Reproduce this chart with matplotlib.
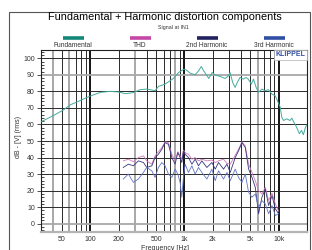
import matplotlib

matplotlib.use("Agg")
import matplotlib.pyplot as plt
from matplotlib.lines import Line2D
from matplotlib.patches import Rectangle
from matplotlib.ticker import FixedLocator, MultipleLocator, NullLocator

plt.rcParams["font.family"] = ["Liberation Sans", "DejaVu Sans"]

# --- data ------------------------------------------------------------------
fund_freq = [30.5, 40.7, 52, 61, 78, 100, 128, 163, 202, 235, 284, 338, 400,
             488, 530, 623, 763, 867, 985, 1040, 1150, 1300, 1410, 1510, 1600,
             1740, 1810, 1970, 2130, 2400, 2700, 2930, 3050, 3250, 3450, 3640,
             3890, 4210, 4500, 4750, 5140, 5400, 5770, 6120, 6640, 7190, 7800,
             8460, 9170, 9700, 10400, 10800, 11250, 12200, 13200, 13800, 14500,
             15500, 16600, 17500, 18300, 19300, 20000]
fund_db = [61.8, 65.4, 68.8, 71.8, 74.4, 77.2, 79.4, 80.0, 79.6, 78.6, 79.2,
           81.0, 81.4, 80.4, 83.0, 84.4, 87.8, 91.4, 93.4, 93.0, 91.0, 90.0,
           92.4, 95.0, 92.4, 89.4, 87.8, 91.4, 89.8, 89.0, 87.8, 89.4, 91.4,
           85.4, 82.4, 85.4, 88.4, 87.4, 88.4, 87.4, 84.4, 87.4, 82.4, 79.4,
           81.4, 80.4, 81.0, 78.4, 77.4, 74.4, 70.4, 64.4, 62.4, 63.4, 62.4,
           63.8, 61.4, 58.4, 54.4, 56.4, 53.8, 58.4, 59.8]

dist_freq = [224, 254, 287, 324, 367, 398, 450, 488, 529, 575, 623, 676, 734,
             796, 850, 900, 937, 975, 1016, 1103, 1199, 1300, 1409, 1531, 1730,
             1955, 2122, 2300, 2600, 2825, 3062, 3460, 3750, 4080, 4425, 4800,
             5210, 5650, 6125, 6650, 7220, 7830, 8500, 9220, 10000]
thd_db = [38, 39, 37.5, 40, 41, 38, 36, 41, 43.5, 46, 49.5, 49, 42, 38, 43.5,
          41, 39, 44.5, 43, 42, 39, 40, 38, 39, 38, 38.5, 37, 38, 39, 36.5, 36,
          41.5, 45, 49.5, 47, 36, 31, 26, 20, 18, 22, 14, 18.5, 12, 7.5]
h2_db = [34, 36, 35, 38, 37, 34, 35, 40, 42, 45, 49, 48, 40, 36, 43, 40, 37,
         44, 42, 40, 36, 39, 35, 38, 34, 37, 33, 37, 33, 36, 31, 40, 44, 49,
         46, 33, 28, 22, 6, 16, 21, 11, 17, 9, 6]
h3_db = [27, 30, 25, 27, 31, 34, 32, 28, 34, 37, 35, 30, 28, 33, 30, 25, 16,
         28, 36, 31, 35, 30, 34, 31, 27, 33, 26, 32, 27, 31, 26, 33, 28, 25,
         30, 19, 16, 18, 10, 14, 12, 6, 11, 5, 6]

series_names = ["Fundamental", "THD", "2nd Harmonic", "3rd Harmonic"]
legend_colors = ["#14877a", "#c447a6", "#22225e", "#2f4fa3"]
line_colors = ["#45aa9c", "#d27ab8", "#38357e", "#6274c4"]

x_ticks = [50, 100, 200, 500, 1000, 2000, 5000, 10000]
x_tick_labels = ["50", "100", "200", "500", "1k", "2k", "5k", "10k"]
y_ticks = list(range(0, 101, 10))

# --- figure ----------------------------------------------------------------
fig = plt.figure(figsize=(3.12, 2.5), dpi=100)
fig.patches.append(Rectangle((9 / 312, -0.1), 300.5 / 312, 1.1 - 12 / 250,
                             transform=fig.transFigure, fill=False,
                             edgecolor="#555555", linewidth=0.8))

ax = fig.add_axes([41 / 312, 1 - 232 / 250, 266 / 312, 182 / 250])
ax.set_xscale("log")
ax.set_xlim(30, 20000)
ax.set_ylim(-5, 105)

# grid like the Klippel plot
grid_freqs = [m * d for d in (10, 100, 1000, 10000) for m in range(1, 10)]
for f in grid_freqs:
    if not 30 < f < 20000:
        continue
    if f in (100, 1000, 10000):
        ax.axvline(f, color="black", lw=1.3, zorder=1)
    elif f in (40, 60, 300, 800, 6000):
        ax.axvline(f, color="#a8a8a8", lw=1.4, zorder=1)
    else:
        ax.axvline(f, color="#2a2a2a", lw=0.7, zorder=1)
for v in y_ticks:
    if v in (0, 90):
        ax.axhline(v, color="#a8a8a8", lw=1.3, zorder=1)
    else:
        ax.axhline(v, color="#2a2a2a", lw=0.7, zorder=1)

ax.plot(fund_freq, fund_db, color=line_colors[0], lw=0.7, zorder=3)
ax.plot(dist_freq, thd_db, color=line_colors[1], lw=0.6, zorder=3)
ax.plot(dist_freq, h2_db, color=line_colors[2], lw=0.6, zorder=4)
ax.plot(dist_freq, h3_db, color=line_colors[3], lw=0.6, zorder=4)

ax.xaxis.set_major_locator(FixedLocator(x_ticks))
ax.xaxis.set_minor_locator(NullLocator())
ax.set_xticklabels(x_tick_labels)
ax.yaxis.set_major_locator(FixedLocator(y_ticks))
ax.yaxis.set_minor_locator(MultipleLocator(2))
ax.tick_params(axis="x", length=0, labelsize=5, colors="#333333", pad=3)
ax.tick_params(axis="y", which="major", direction="out", length=3,
               width=0.6, labelsize=5, colors="#333333", pad=1.5)
ax.tick_params(axis="y", which="minor", direction="in", length=2.5, width=0.5)

for side in ("left", "top", "right"):
    ax.spines[side].set_color("#222222")
    ax.spines[side].set_linewidth(0.8)
ax.spines["bottom"].set_color("#b4b4b4")
ax.spines["bottom"].set_linewidth(1.6)

# KLIPPEL badge in the top right corner
ax.text(0.9935, 0.993, "KLIPPEL", transform=ax.transAxes, ha="right",
        va="top", fontsize=5, fontweight="bold", color="#2f4fa3", zorder=6,
        bbox=dict(boxstyle="square,pad=0.25", facecolor="white",
                  edgecolor="#b0b0b0", linewidth=0.5))

# titles
fig.text(0.53, 1 - 17 / 250, "Fundamental + Harmonic distortion components",
         ha="center", va="center", fontsize=7.8)
fig.text(0.556, 1 - 27 / 250, "Signal at IN1", ha="center", va="center",
         fontsize=3.8, color="#333333")

# legend: colour bar above each name
for i, (name, col) in enumerate(zip(series_names, legend_colors)):
    cx = (73 + 67 * i) / 312
    fig.add_artist(Line2D([cx - 10.5 / 312, cx + 10.5 / 312],
                          [1 - 38 / 250] * 2, color=col, lw=2.6,
                          solid_capstyle="butt", transform=fig.transFigure))
    fig.text(cx, 1 - 45.5 / 250, name, ha="center", va="center",
             fontsize=4.8, color="#333333")

fig.text(18 / 312, 1 - 137 / 250, "dB - [V] (rms)", rotation=90,
         ha="center", va="center", fontsize=5, color="#333333")
fig.text(165 / 312, 1 - 248 / 250, "Frequency [Hz]", ha="center",
         va="center", fontsize=5, color="#333333")

fig.savefig("out.png", dpi=100)
